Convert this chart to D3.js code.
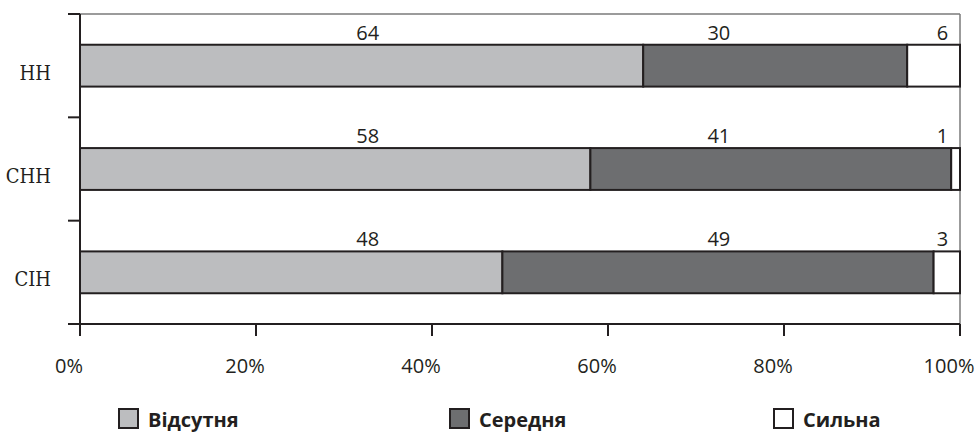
<!DOCTYPE html>
<html>
<head>
<meta charset="utf-8">
<script src="https://cdn.jsdelivr.net/npm/d3@7"></script>
<style>
  html, body { margin: 0; padding: 0; background: #fff; }
  svg { display: block; }
</style>
</head>
<body>
<svg id="chart" width="975" height="434"></svg>
<script>
// Categories (top to bottom) and stacked shares, %
const categories = ["НН", "СНН", "СІН"];
const seriesNames = ["Відсутня", "Середня", "Сильна"];
const absent = [64, 58, 48];
const medium = [30, 41, 49];
const strong = [6, 1, 3];
const xTicks = [0, 20, 40, 60, 80, 100];

const colors = ["#bcbdbf", "#6d6e70", "#ffffff"];
// horizontal position (in %) of each series' value label
const labelAt = [32.7, 72.6, 98.0];

const svg = d3.select("#chart");
const plotLeft = 80, plotRight = 960, plotTop = 14, plotBottom = 324;

const x = d3.scaleLinear().domain([0, 100]).range([plotLeft, plotRight]);
const y = d3.scaleBand().domain(categories).range([plotTop, plotBottom]).padding(0);
const barH = y.bandwidth() * 0.405;

const rows = categories.map((c, i) => ({ cat: c, absent: absent[i], medium: medium[i], strong: strong[i] }));
const stack = d3.stack().keys(["absent", "medium", "strong"]);
const layers = stack(rows);

// plot frame (top and right edges)
svg.append("line").attr("x1", plotLeft).attr("x2", plotRight).attr("y1", plotTop).attr("y2", plotTop)
  .attr("stroke", "#7a7a7a").attr("stroke-width", 1.5);
svg.append("line").attr("x1", plotRight).attr("x2", plotRight).attr("y1", plotTop).attr("y2", plotBottom)
  .attr("stroke", "#7a7a7a").attr("stroke-width", 1.5);

// stacked bars
layers.forEach((layer, si) => {
  svg.append("g").selectAll("rect").data(layer).join("rect")
    .attr("x", d => x(d[0]))
    .attr("width", d => x(d[1]) - x(d[0]))
    .attr("y", d => y(d.data.cat) + (y.bandwidth() - barH) / 2)
    .attr("height", barH)
    .attr("fill", colors[si])
    .attr("stroke", "#231f20")
    .attr("stroke-width", 2);
});

// value labels
layers.forEach((layer, si) => {
  svg.append("g").selectAll("text").data(layer).join("text")
    .attr("x", x(labelAt[si]))
    .attr("y", d => y(d.data.cat) + (y.bandwidth() - barH) / 2 - 5)
    .attr("text-anchor", "middle")
    .attr("font-family", "'Open Sans', sans-serif")
    .attr("font-size", 20)
    .attr("fill", "#231f20")
    .text(d => d[1] - d[0]);
});

// left axis with ticks at category boundaries
const yBounds = categories.map(c => y(c)).concat([plotBottom]);
svg.append("line").attr("x1", plotLeft).attr("x2", plotLeft).attr("y1", plotTop).attr("y2", plotBottom + 12)
  .attr("stroke", "#231f20").attr("stroke-width", 2);
svg.append("g").selectAll("line").data(yBounds).join("line")
  .attr("x1", plotLeft - 12).attr("x2", plotLeft).attr("y1", d => d).attr("y2", d => d)
  .attr("stroke", "#231f20").attr("stroke-width", 2);

// bottom axis
svg.append("line").attr("x1", plotLeft - 12).attr("x2", plotRight).attr("y1", plotBottom).attr("y2", plotBottom)
  .attr("stroke", "#231f20").attr("stroke-width", 2);
svg.append("g").selectAll("line").data(xTicks).join("line")
  .attr("x1", d => x(d)).attr("x2", d => x(d)).attr("y1", plotBottom).attr("y2", plotBottom + 12)
  .attr("stroke", "#231f20").attr("stroke-width", 2);
svg.append("g").selectAll("text").data(xTicks).join("text")
  .attr("x", d => x(d) - 11)
  .attr("y", 373)
  .attr("text-anchor", "middle")
  .attr("font-family", "'Open Sans', sans-serif")
  .attr("font-size", 20)
  .attr("fill", "#231f20")
  .text(d => d + "%");

// category labels
svg.append("g").selectAll("text").data(categories).join("text")
  .attr("x", 51)
  .attr("y", d => y(d) + y.bandwidth() / 2 + 14)
  .attr("text-anchor", "end")
  .attr("font-family", "'DejaVu Serif', serif")
  .attr("font-stretch", "condensed")
  .attr("font-size", 20)
  .attr("fill", "#231f20")
  .text(d => d);

// legend
const legendX = [119, 450, 774];
const lg = svg.append("g").selectAll("g").data(seriesNames).join("g")
  .attr("transform", (d, i) => `translate(${legendX[i]},409)`);
lg.append("rect").attr("width", 19).attr("height", 19)
  .attr("fill", (d, i) => colors[i]).attr("stroke", "#231f20").attr("stroke-width", 2);
lg.append("text").attr("x", 29).attr("y", 18)
  .attr("font-family", "'Open Sans', sans-serif")
  .attr("font-weight", "bold")
  .attr("font-size", 20)
  .attr("fill", "#231f20")
  .text(d => d);
</script>
</body>
</html>
